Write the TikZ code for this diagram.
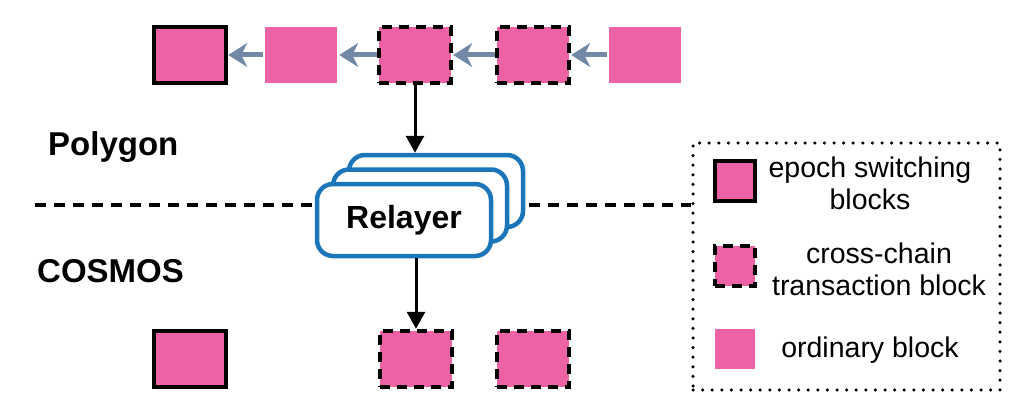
\documentclass[tikz,border=0pt]{standalone}
\usepackage{fontspec}
\setmainfont{Liberation Sans}
\usepackage{tikz}
\usetikzlibrary{positioning,arrows.meta}
\definecolor{blockpink}{HTML}{EC62A5}
\definecolor{arrowgrey}{HTML}{7189A7}
\definecolor{relayblue}{HTML}{1B75B9}

\begin{document}
\begin{tikzpicture}[
	x=1pt,y=-1pt,
	block/.style={
		fill=blockpink,
		minimum width=72pt,
		minimum height=56pt,
		inner sep=0pt,
		line width=4.5pt
	},
	epoch/.style={
		block,
		draw
	},
	cross/.style={
		block,
		draw,
		dash pattern=on 10pt off 7pt
	},
	relay/.style={
		draw=relayblue,
		fill=white,
		line width=4.5pt,
		rounded corners=16pt,
		minimum width=174pt,
		minimum height=72pt,
		inner sep=0pt,
		font=\fontsize{32}{36}\selectfont\bfseries
	},
	chainarrow/.style={
		draw=arrowgrey,
		line width=5pt,
		-{Stealth[length=19pt,width=24pt,inset=6pt]}
	},
	relayarrow/.style={
		line width=3pt,
		-{Triangle[length=17pt,width=18pt]}
	},
	chainlabel/.style={
		font=\fontsize{33}{38}\selectfont\bfseries,
		anchor=base west,
		inner sep=0pt
	},
	legtext/.style={
		font=\fontsize{28.5}{32}\selectfont,
		align=center
	},
	legbox/.style={
		minimum size=40pt
	}
	]
	
	\useasboundingbox (0,0) rectangle (1030,404);
	
	\node[epoch] at (190, 55) (t1) {};
	\node[block] at (301, 55) (t2) {};
	\node[cross] at (415, 55) (t3) {};
	\node[cross] at (533, 55) (t4) {};
	\node[block] at (645, 55) (t5) {};
	
	\draw[chainarrow] (t2) -- (t1);
	\draw[chainarrow] (t3) -- (t2);
	\draw[chainarrow] (t4) -- (t3);
	\draw[chainarrow] (t5) -- (t4);
	
	\node[chainlabel] at (48, 155) (polygon) {Polygon};
	\node[chainlabel] at (37, 282) (cosmos) {COSMOS};
	
	\node[draw, line width=3.5pt, line cap=round, dash pattern=on 0pt off 9.6pt,
		minimum width=307pt, minimum height=247pt] at (846.5, 266.5)
		(legend) {};
	
	\coordinate (sepL) at (35, 205);
	\draw[line width=4pt, dash pattern=on 11pt off 8pt] (sepL) -- (sepL -| legend.west);
	
	\node[relay] at (436, 191) (r3) {};
	\node[relay] at (420, 205.5) (r2) {};
	\node[relay] at (404, 220) (r1) {Relayer};
	
	\node[epoch] at (190, 359) (b1) {};
	\node[cross] at (416, 359) (b3) {};
	\node[cross] at (533, 359) (b4) {};
	
	\draw[relayarrow] (t3) -- (t3 |- r3.north);
	\draw[relayarrow] (b3 |- r1.south) -- (b3);
	
	\node[epoch, legbox] at (735, 181) (l1) {};
	\node[cross, legbox] at (735, 266) (l2) {};
	\node[block, legbox] at (735, 349) (l3) {};
	
	\node[legtext] at (870, 183) (lt1) {epoch switching\\blocks};
	\node[legtext] at (879, 269) (lt2) {cross-chain\\transaction block};
	\node[legtext] at (870, 350) (lt3) {ordinary block};
	
\end{tikzpicture}
\end{document}
